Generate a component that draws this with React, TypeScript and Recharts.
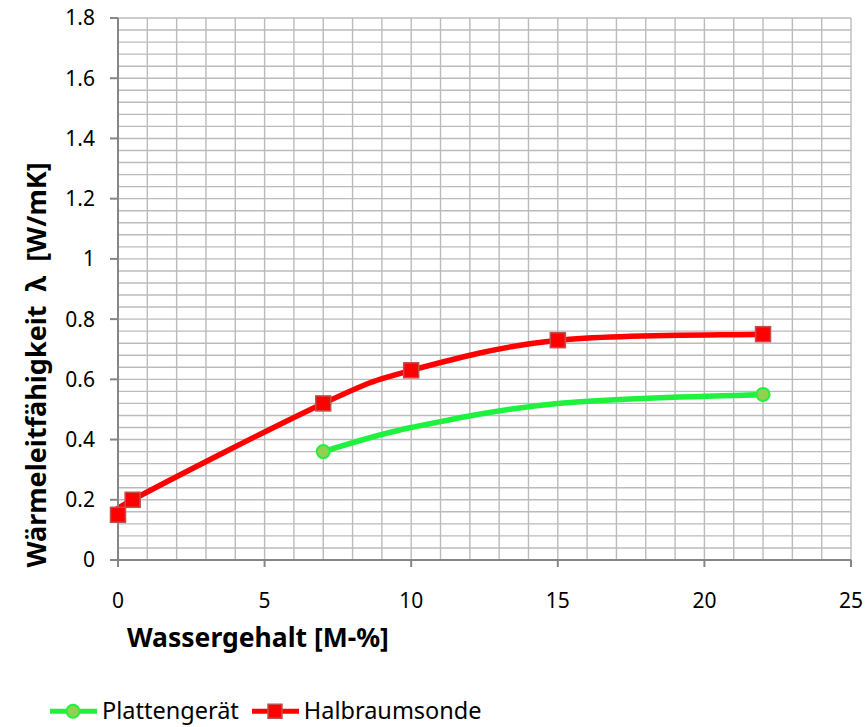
import React from "react";
import { ComposedChart, Line, XAxis, YAxis, CartesianGrid, ReferenceLine } from "recharts";

// Halbraumsonde (measured, all points marked)
const halbX = [0, 0.5, 7, 10, 15, 22];
const halbY = [0.15, 0.2, 0.52, 0.63, 0.73, 0.75];

// Plattengerät smoothed curve and its marked measurement points
const plattCurveX = [7, 10, 15, 22];
const plattCurveY = [0.36, 0.44, 0.52, 0.55];
const plattMarkX = [7, 22];
const plattMarkY = [0.36, 0.55];

const xTicks = [0, 5, 10, 15, 20, 25];
const yTicks = [0, 0.2, 0.4, 0.6, 0.8, 1.0, 1.2, 1.4, 1.6, 1.8];
const xGridValues = Array.from({ length: 26 }, (_, i) => i);
const yGridValues = Array.from({ length: 46 }, (_, i) => +(i * 0.04).toFixed(2));

const xLabel = "Wassergehalt [M-%]";
const yLabel = "Wärmeleitfähigkeit  λ  [W/mK]";
const seriesNames = ["Plattengerät", "Halbraumsonde"];

const halbData = halbX.map((x, i) => ({ x, y: halbY[i] }));
const plattCurve = plattCurveX.map((x, i) => ({ x, y: plattCurveY[i] }));
const plattMarks = plattMarkX.map((x, i) => ({ x, y: plattMarkY[i] }));

const RED = "#FF0000";
const GREEN = "#1EF23F";
const FONT = "'Noto Sans', sans-serif";

// Excel-like smoothing (uniform Catmull-Rom as cubic Bezier)
function excelSmooth(context: any) {
  let pts: [number, number][] = [];
  return {
    areaStart() {},
    areaEnd() {},
    lineStart() {
      pts = [];
    },
    point(x: number, y: number) {
      pts.push([+x, +y]);
    },
    lineEnd() {
      const n = pts.length;
      if (!n) return;
      context.moveTo(pts[0][0], pts[0][1]);
      if (n === 1) return;
      for (let i = 0; i < n - 1; i++) {
        const p0 = pts[Math.max(0, i - 1)];
        const p1 = pts[i];
        const p2 = pts[i + 1];
        const p3 = pts[Math.min(n - 1, i + 2)];
        const c1x = p1[0] + (p2[0] - p0[0]) / 6;
        const c1y = p1[1] + (p2[1] - p0[1]) / 6;
        const c2x = p2[0] - (p3[0] - p1[0]) / 6;
        const c2y = p2[1] - (p3[1] - p1[1]) / 6;
        context.bezierCurveTo(c1x, c1y, c2x, c2y, p2[0], p2[1]);
      }
    },
  };
}

const Square = (p: any) => {
  const { cx, cy, index } = p;
  if (cx == null || cy == null) return <g key={index} />;
  return (
    <rect key={index} x={cx - 7.5} y={cy - 7.5} width={15} height={15} fill={RED} stroke="#C0504D" strokeWidth={1.5} />
  );
};

const Circle = (p: any) => {
  const { cx, cy, index } = p;
  if (cx == null || cy == null) return <g key={index} />;
  return <circle key={index} cx={cx} cy={cy} r={6.5} fill="#92D050" stroke={GREEN} strokeWidth={2} />;
};

const fmtY = (v: number) => String(+v.toFixed(1));

export default function App() {
  return (
    <div style={{ position: "absolute", left: 0, top: 0, width: 867, height: 727, background: "#fff", fontFamily: FONT }}>
      <ComposedChart
        width={867}
        height={727}
        margin={{ top: 18, right: 16, left: 0, bottom: 107 }}
      >
        <CartesianGrid
          stroke="#BBBBBB"
          strokeWidth={1.4}
          horizontal={false}
          verticalValues={xGridValues}
        />
        {yGridValues.map((v) => (
          <ReferenceLine key={v} y={v} stroke="#BBBBBB" strokeWidth={1.4} />
        ))}
        <XAxis
          type="number"
          dataKey="x"
          domain={[0, 25]}
          ticks={xTicks}
          height={60}
          tickSize={7}
          tickMargin={26}
          stroke="#868686"
          strokeWidth={2}
          tick={{ fill: "#000", fontSize: 21, fontFamily: FONT }}
        />
        <YAxis
          type="number"
          dataKey="y"
          domain={[0, 1.8]}
          ticks={yTicks}
          width={118}
          tickSize={8}
          tickMargin={15}
          tickFormatter={fmtY}
          stroke="#868686"
          strokeWidth={2}
          tick={{ fill: "#000", fontSize: 21, fontFamily: FONT }}
        />
        <Line
          data={plattCurve}
          dataKey="y"
          type={excelSmooth as any}
          stroke={GREEN}
          strokeWidth={5.5}
          dot={false}
          activeDot={false}
          isAnimationActive={false}
        />
        <Line
          data={plattMarks}
          dataKey="y"
          stroke="none"
          dot={Circle}
          activeDot={false}
          isAnimationActive={false}
        />
        <Line
          data={halbData}
          dataKey="y"
          type={excelSmooth as any}
          stroke={RED}
          strokeWidth={5.5}
          dot={Square}
          activeDot={false}
          isAnimationActive={false}
        />
      </ComposedChart>

      <div
        style={{
          position: "absolute",
          left: 127,
          top: 637,
          transform: "translateY(-50%)",
          fontSize: 26.5,
          fontWeight: "bold",
          color: "#000",
          whiteSpace: "nowrap",
          lineHeight: 1,
        }}
      >
        {xLabel}
      </div>
      <div
        style={{
          position: "absolute",
          left: 35,
          top: 365,
          transform: "translate(-50%, -50%) rotate(-90deg)",
          fontSize: 27,
          fontWeight: "bold",
          color: "#000",
          whiteSpace: "pre",
          lineHeight: 1,
        }}
      >
        {yLabel}
      </div>

      <div
        style={{
          position: "absolute",
          left: 49,
          top: 711,
          transform: "translateY(-50%)",
          display: "flex",
          alignItems: "center",
          fontSize: 23.5,
          color: "#000",
          whiteSpace: "nowrap",
          lineHeight: 1,
        }}
      >
        <svg width={50} height={20} style={{ marginRight: 3 }}>
          <line x1={1} y1={10} x2={48} y2={10} stroke={GREEN} strokeWidth={5} />
          <circle cx={24} cy={10} r={6.5} fill="#92D050" stroke={GREEN} strokeWidth={2} />
        </svg>
        <span style={{ marginRight: 12 }}>{seriesNames[0]}</span>
        <svg width={50} height={20} style={{ marginRight: 3 }}>
          <line x1={1} y1={10} x2={48} y2={10} stroke={RED} strokeWidth={5} />
          <rect x={17} y={3} width={14} height={14} fill={RED} stroke="#C0504D" strokeWidth={1.5} />
        </svg>
        <span>{seriesNames[1]}</span>
      </div>
    </div>
  );
}
